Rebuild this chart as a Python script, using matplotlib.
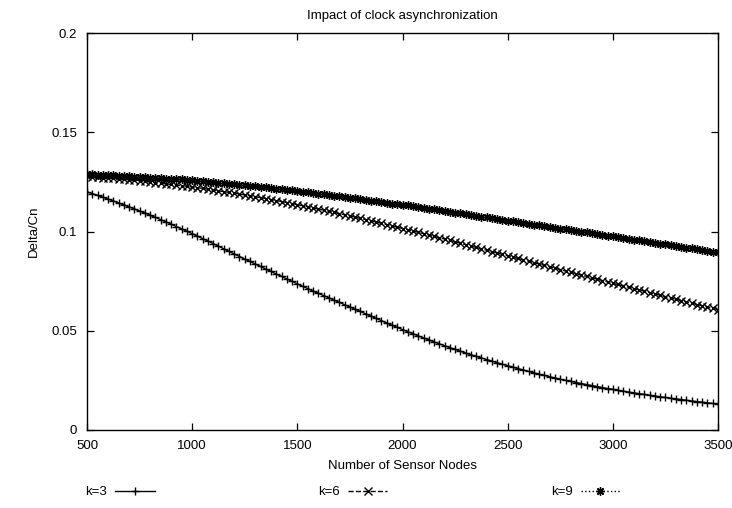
import matplotlib
matplotlib.use('Agg')
import matplotlib.pyplot as plt

# x values: number of sensor nodes (every 25)
nodes = list(range(500, 3501, 25))

# curves
k3 = [0.1200, 0.1191, 0.1182, 0.1173, 0.1163, 0.1154, 0.1144, 0.1134, 0.1124, 0.1114,
      0.1103, 0.1093, 0.1082, 0.1071, 0.1060, 0.1049, 0.1037, 0.1025, 0.1013, 0.1001,
      0.0989, 0.0977, 0.0964, 0.0952, 0.0939, 0.0926, 0.0913, 0.0900, 0.0887, 0.0874,
      0.0861, 0.0849, 0.0836, 0.0824, 0.0811, 0.0799, 0.0786, 0.0774, 0.0761, 0.0749,
      0.0736, 0.0724, 0.0712, 0.0700, 0.0689, 0.0677, 0.0666, 0.0654, 0.0643, 0.0631,
      0.0620, 0.0608, 0.0597, 0.0585, 0.0574, 0.0562, 0.0551, 0.0539, 0.0528, 0.0517,
      0.0506, 0.0495, 0.0485, 0.0474, 0.0464, 0.0454, 0.0444, 0.0434, 0.0425, 0.0415,
      0.0406, 0.0397, 0.0388, 0.0379, 0.0371, 0.0363, 0.0355, 0.0347, 0.0339, 0.0331,
      0.0324, 0.0316, 0.0309, 0.0302, 0.0295, 0.0288, 0.0281, 0.0275, 0.0268, 0.0262,
      0.0256, 0.0250, 0.0245, 0.0239, 0.0234, 0.0229, 0.0224, 0.0219, 0.0214, 0.0209,
      0.0205, 0.0200, 0.0196, 0.0191, 0.0187, 0.0183, 0.0179, 0.0175, 0.0171, 0.0167,
      0.0164, 0.0160, 0.0157, 0.0153, 0.0150, 0.0146, 0.0143, 0.0140, 0.0137, 0.0134,
      0.0131]

k6 = [0.1278, 0.1276, 0.1274, 0.1272, 0.1270, 0.1268, 0.1265, 0.1263, 0.1260, 0.1258,
      0.1255, 0.1252, 0.1249, 0.1246, 0.1243, 0.1240, 0.1237, 0.1234, 0.1231, 0.1228,
      0.1224, 0.1221, 0.1217, 0.1213, 0.1209, 0.1205, 0.1201, 0.1197, 0.1193, 0.1189,
      0.1184, 0.1180, 0.1175, 0.1171, 0.1166, 0.1161, 0.1156, 0.1151, 0.1146, 0.1141,
      0.1135, 0.1130, 0.1124, 0.1119, 0.1113, 0.1108, 0.1102, 0.1096, 0.1090, 0.1084,
      0.1078, 0.1072, 0.1066, 0.1060, 0.1054, 0.1048, 0.1041, 0.1035, 0.1028, 0.1022,
      0.1015, 0.1009, 0.1002, 0.0996, 0.0989, 0.0982, 0.0975, 0.0969, 0.0962, 0.0955,
      0.0948, 0.0941, 0.0934, 0.0927, 0.0920, 0.0913, 0.0906, 0.0899, 0.0892, 0.0885,
      0.0878, 0.0871, 0.0864, 0.0857, 0.0850, 0.0843, 0.0836, 0.0829, 0.0822, 0.0815,
      0.0808, 0.0801, 0.0794, 0.0787, 0.0780, 0.0774, 0.0767, 0.0760, 0.0753, 0.0746,
      0.0739, 0.0733, 0.0726, 0.0719, 0.0712, 0.0706, 0.0699, 0.0692, 0.0685, 0.0679,
      0.0672, 0.0665, 0.0658, 0.0652, 0.0645, 0.0639, 0.0632, 0.0626, 0.0619, 0.0613,
      0.0606]

k9 = [0.1290, 0.1289, 0.1287, 0.1286, 0.1284, 0.1283, 0.1281, 0.1280, 0.1278, 0.1277,
      0.1275, 0.1274, 0.1272, 0.1271, 0.1269, 0.1267, 0.1265, 0.1264, 0.1262, 0.1260,
      0.1258, 0.1256, 0.1253, 0.1251, 0.1248, 0.1246, 0.1243, 0.1241, 0.1238, 0.1236,
      0.1233, 0.1231, 0.1228, 0.1225, 0.1222, 0.1219, 0.1216, 0.1213, 0.1210, 0.1207,
      0.1204, 0.1201, 0.1198, 0.1195, 0.1191, 0.1188, 0.1184, 0.1181, 0.1177, 0.1174,
      0.1170, 0.1167, 0.1163, 0.1160, 0.1156, 0.1153, 0.1149, 0.1145, 0.1141, 0.1138,
      0.1135, 0.1131, 0.1127, 0.1123, 0.1119, 0.1115, 0.1111, 0.1107, 0.1103, 0.1099,
      0.1095, 0.1091, 0.1087, 0.1083, 0.1079, 0.1075, 0.1071, 0.1067, 0.1063, 0.1059,
      0.1055, 0.1051, 0.1047, 0.1043, 0.1039, 0.1035, 0.1031, 0.1027, 0.1023, 0.1019,
      0.1015, 0.1011, 0.1007, 0.1003, 0.0999, 0.0995, 0.0991, 0.0987, 0.0983, 0.0979,
      0.0975, 0.0971, 0.0967, 0.0963, 0.0959, 0.0955, 0.0951, 0.0947, 0.0943, 0.0939,
      0.0935, 0.0931, 0.0927, 0.0923, 0.0919, 0.0915, 0.0911, 0.0907, 0.0903, 0.0899,
      0.0895]

labels = ['k=3', 'k=6', 'k=9']
x_ticks = [500, 1000, 1500, 2000, 2500, 3000, 3500]
y_ticks = [0, 0.05, 0.1, 0.15, 0.2]
y_tick_labels = ['0', '0.05', '0.1', '0.15', '0.2']

for name, ys in (('k3', k3), ('k6', k6), ('k9', k9)):
    if len(ys) != len(nodes):
        raise ValueError(f"{name}: {len(ys)} values for {len(nodes)} nodes")

plt.rcParams['font.family'] = ['Liberation Sans', 'DejaVu Sans']

fig = plt.figure(figsize=(7.32, 5.08), dpi=100)
ax = fig.add_axes([87 / 732, 1 - 430 / 508, (718 - 87) / 732, (430 - 33) / 508])

ax.plot(nodes, k3, color='black', linestyle='-', linewidth=1.0,
        marker='+', markersize=5.5, markeredgewidth=1.0, label=labels[0])
ax.plot(nodes, k6, color='black', linestyle='--', linewidth=1.0,
        marker='x', markersize=5.5, markeredgewidth=1.0, label=labels[1])
ax.plot(nodes, k9, color='black', linestyle=':', linewidth=1.0,
        marker=(8, 2, 0), markersize=6, markeredgewidth=1.0, label=labels[2])

ax.set_xlim(500, 3500)
ax.set_ylim(0, 0.2)
ax.set_xticks(x_ticks)
ax.set_xticklabels([str(v) for v in x_ticks])
ax.set_yticks(y_ticks)
ax.set_yticklabels(y_tick_labels)
ax.tick_params(axis='both', direction='in', length=5, width=0.9,
               top=True, right=True, labelsize=9.5, pad=7, colors='black')
for s in ax.spines.values():
    s.set_linewidth(1.0)

ax.set_title('Impact of clock asynchronization', fontsize=9.5, pad=10)
ax.set_xlabel('Number of Sensor Nodes', fontsize=9.5, labelpad=6)
ax.set_ylabel('Delta/Cn', fontsize=9.5, labelpad=8)

fig.legend(loc='center left', bbox_to_anchor=(80 / 732, 1 - 492 / 508), ncol=3,
           frameon=False, markerfirst=False, fontsize=9.5, handlelength=3.0,
           handletextpad=0.6, columnspacing=12.4, borderaxespad=0)

fig.savefig('out.png', dpi=100)
